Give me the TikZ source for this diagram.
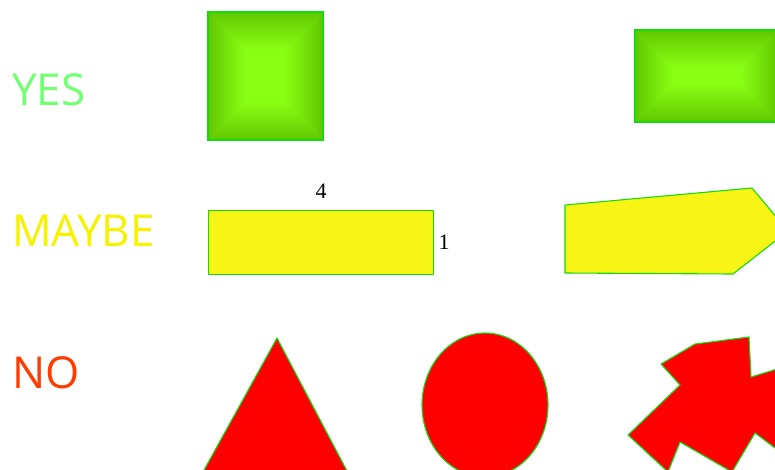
\documentclass[tikz,border=0pt]{standalone}
\usepackage{fontspec}
\newfontfamily\handfont{Open Sans}
\newfontfamily\numfont{Liberation Serif}
\definecolor{gdark}{HTML}{62C800}
\definecolor{glight}{HTML}{8AFF14}
\definecolor{gline}{HTML}{10DC10}
\definecolor{yfill}{HTML}{F8F516}
\definecolor{yestxt}{HTML}{72FF72}
\definecolor{maybetxt}{HTML}{F6F200}
\definecolor{notxt}{HTML}{FF3C00}
% pillow-shaded green box, corners (x1,y1) (x2,y2) in pixels
\newcommand\glowbox[4]{%
  \fill[gdark] (#1,#2) rectangle (#3,#4);
  \foreach \i in {1,...,30}{\pgfmathtruncatemacro\p{\i*100/30}
    \fill[glight!\p!gdark] (#1+\i*1.25,#2+\i*1.25) rectangle (#3-\i*1.25,#4-\i*1.25);}
  \draw[gline,line width=1.6] (#1,#2) rectangle (#3,#4);}
\begin{document}
\begin{tikzpicture}[x=1pt,y=-1pt,word/.style={font=\handfont\fontsize{44}{44}\selectfont,anchor=base west,inner sep=0},
  outl/.style={draw=gline,line width=1.1,line join=round},num/.style={font=\numfont\fontsize{22}{22}\selectfont,inner sep=0}]
\useasboundingbox (0,0) rectangle (775,469); \clip (0,0) rectangle (775,469);
\node[word,text=yestxt] (yes) at (12,105) {YES}; \node[word,text=maybetxt] (maybe) at (12,246) {MAYBE}; \node[word,text=notxt] (no) at (12,388) {NO};
% YES row
\glowbox{208}{12}{323}{140} \glowbox{635}{30}{779}{122}
% MAYBE row
\node[outl,fill=yfill,minimum width=225,minimum height=64,inner sep=0,anchor=north west] (bar) at (208,210) {};
\node[num] (blen) at (321,191) {4}; \node[num] (bhgt) at (444,242) {1};
\draw[outl,fill=yfill] (565,205) -- (752,188) -- (788,231) -- (733,274) -- (565,273) -- cycle;
% NO row
\draw[outl,fill=red] (277,338) -- (357,490) -- (193,490) -- cycle;
\draw[outl,fill=red] (485,405) ellipse [x radius=63,y radius=72];
\draw[outl,fill=red] (661,364) -- (695,344) -- (749,337) -- (751,377) -- (800,362) -- (815,425) -- (775,448) -- (755,433) -- (732,472) -- (680,442) -- (668,472) -- (628,435) -- (680,385) -- cycle;
\end{tikzpicture}
\end{document}
